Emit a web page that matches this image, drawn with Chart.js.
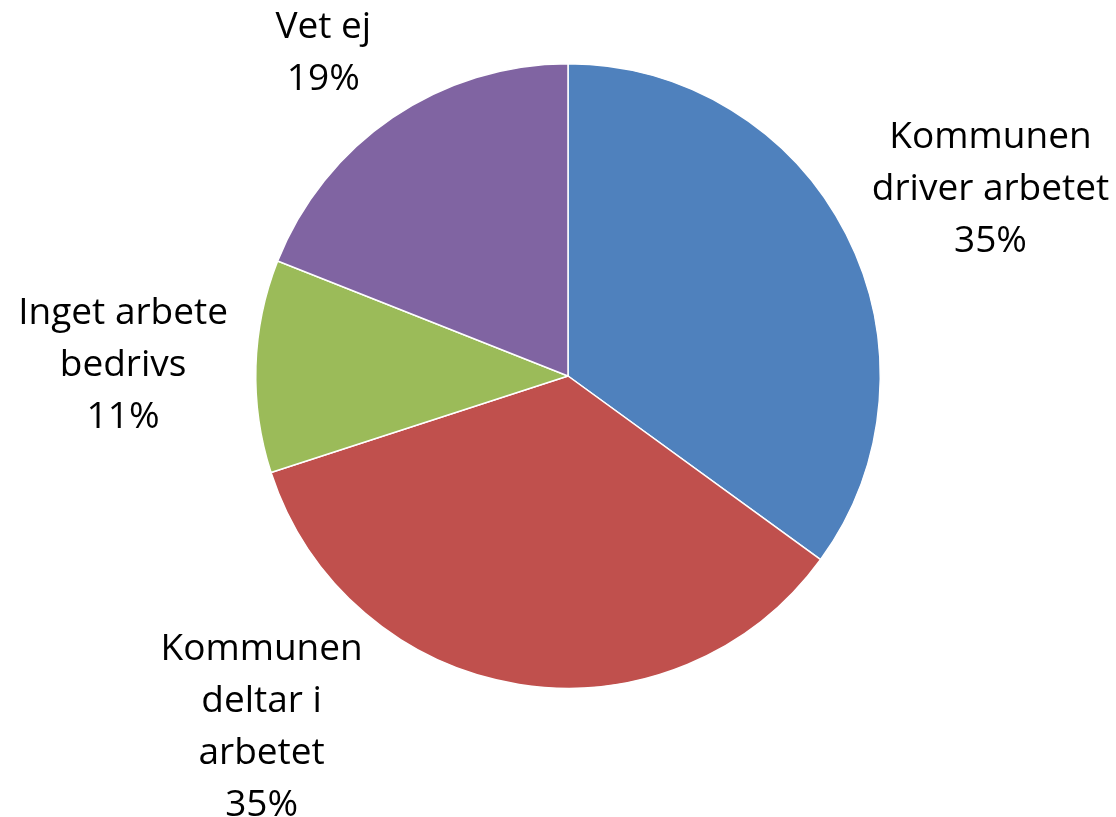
<!DOCTYPE html>
<html>
<head>
<meta charset="utf-8">
<script src="https://cdn.jsdelivr.net/npm/chart.js@4"></script>
<style>
  html, body { margin: 0; padding: 0; background: #fff; }
</style>
</head>
<body>
<canvas id="pie" width="1116" height="817"></canvas>
<script>
// data
const categories = [
  ['Kommunen', 'driver arbetet'],
  ['Kommunen', 'deltar i', 'arbetet'],
  ['Inget arbete', 'bedrivs'],
  ['Vet ej']
];
const shares = [35, 35, 11, 19];
const percentLabels = ['35%', '35%', '11%', '19%'];

const sliceColors = ['#4F81BD', '#C0504D', '#9BBB59', '#8064A2'];
// nudges for each label block, from the default spot outside the slice
const labelShift = [[33, 12], [-238, -80], [-8, 3], [1, 39]];

// draw the category + percent labels outside the pie, like Excel does
const outsideLabels = {
  id: 'outsideLabels',
  afterDraw(chart) {
    const ctx = chart.ctx;
    const arcs = chart.getDatasetMeta(0).data;
    const lineH = 52;
    ctx.save();
    ctx.font = '37px "Open Sans"';
    ctx.fillStyle = '#000';
    ctx.textAlign = 'center';
    ctx.textBaseline = 'middle';
    arcs.forEach((arc, i) => {
      const mid = (arc.startAngle + arc.endAngle) / 2;
      const r = arc.outerRadius * 1.4;
      const x = arc.x + Math.cos(mid) * r + labelShift[i][0];
      const y = arc.y + Math.sin(mid) * r + labelShift[i][1];
      const lines = categories[i].concat(percentLabels[i]);
      const top = y - (lines.length - 1) * lineH / 2;
      lines.forEach((txt, j) => ctx.fillText(txt, x, top + j * lineH));
    });
    ctx.restore();
  }
};

new Chart(document.getElementById('pie'), {
  type: 'pie',
  data: {
    labels: categories.map(c => c.join(' ')),
    datasets: [{
      data: shares,
      backgroundColor: sliceColors,
      borderColor: '#ffffff',
      borderWidth: 1.5
    }]
  },
  options: {
    responsive: false,
    animation: false,
    layout: { padding: { left: 255, right: 235, top: 63, bottom: 128 } },
    plugins: {
      legend: { display: false },
      tooltip: { enabled: false }
    }
  },
  plugins: [outsideLabels]
});
</script>
</body>
</html>
